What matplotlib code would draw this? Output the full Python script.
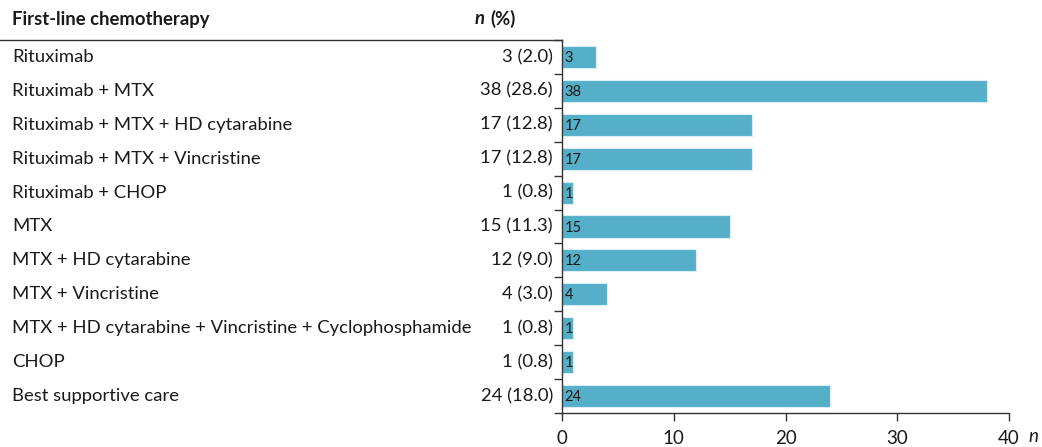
import matplotlib.pyplot as plt
import numpy as np

plt.rcParams['font.family'] = ['Lato', 'DejaVu Sans']

# Daten
therapies = [
    'Rituximab',
    'Rituximab + MTX',
    'Rituximab + MTX + HD cytarabine',
    'Rituximab + MTX + Vincristine',
    'Rituximab + CHOP',
    'MTX',
    'MTX + HD cytarabine',
    'MTX + Vincristine',
    'MTX + HD cytarabine + Vincristine + Cyclophosphamide',
    'CHOP',
    'Best supportive care',
]
counts = [3, 38, 17, 17, 1, 15, 12, 4, 1, 1, 24]
percents = [2.0, 28.6, 12.8, 12.8, 0.8, 11.3, 9.0, 3.0, 0.8, 0.8, 18.0]
xticks = [0, 10, 20, 30, 40]

BAR_COLOR = '#55afc8'
TEXT_COLOR = '#1a1a1a'
FS = 13.3

fig = plt.figure(figsize=(10.42, 4.47), dpi=100)
ax = fig.add_axes([562 / 1042, 34 / 447, 447 / 1042, 373 / 447])

n = len(therapies)
y = np.arange(n)
ax.barh(y, counts, height=0.65, color=BAR_COLOR, edgecolor='#d8eef4', linewidth=0.8)
ax.set_ylim(n - 0.5, -0.5)
ax.set_xlim(0, 40)

# Werte in den Balken
for yi, c in zip(y, counts):
    ax.text(0.25, yi + 0.03, str(c), va='center', ha='left', fontsize=10.5, color=TEXT_COLOR)

# Tabelle links
for yi, name, c, p in zip(y, therapies, counts, percents):
    ax.annotate(name, xy=(12 / 1042, 0), xycoords=('figure fraction', 'data'),
                xytext=(0, yi), textcoords=('offset points', 'data'),
                va='center', ha='left', fontsize=FS, color=TEXT_COLOR)
    ax.annotate(f'{c} ({p:.1f})', xy=(553 / 1042, 0), xycoords=('figure fraction', 'data'),
                xytext=(0, yi), textcoords=('offset points', 'data'),
                va='center', ha='right', fontsize=FS, color=TEXT_COLOR)

# Kopfzeile
fig.text(12 / 1042, 1 - 19 / 447, 'First-line chemotherapy', fontsize=FS,
         fontweight='bold', va='center', ha='left', color=TEXT_COLOR)
fig.text(475 / 1042, 1 - 19 / 447, 'n', fontsize=FS, fontweight='bold', fontstyle='italic',
         va='center', ha='left', color=TEXT_COLOR)
fig.text(490 / 1042, 1 - 19 / 447, '(%)', fontsize=FS, fontweight='bold',
         va='center', ha='left', color=TEXT_COLOR)

# Linie unter der Kopfzeile
fig.add_artist(plt.Line2D([0, 562 / 1042], [1 - 40 / 447, 1 - 40 / 447],
                          color='#333333', linewidth=1.0))

# Achsen
for side in ['top', 'right']:
    ax.spines[side].set_visible(False)
for side in ['left', 'bottom']:
    ax.spines[side].set_color('#333333')
    ax.spines[side].set_linewidth(1.0)

ax.set_yticks([])
ax.set_yticks(np.arange(n + 1) - 0.5, minor=True)
ax.tick_params(axis='y', which='minor', direction='out', length=6, width=1.0, color='#333333')
ax.set_xticks(xticks)
ax.tick_params(axis='x', direction='out', length=6, width=1.0, color='#333333',
               labelsize=13.5, pad=6, labelcolor=TEXT_COLOR)

fig.text(1028 / 1042, 1 - 437 / 447, 'n', fontsize=13.5, fontstyle='italic',
         va='center', ha='left', color=TEXT_COLOR)

fig.savefig('out.png', dpi=100)
